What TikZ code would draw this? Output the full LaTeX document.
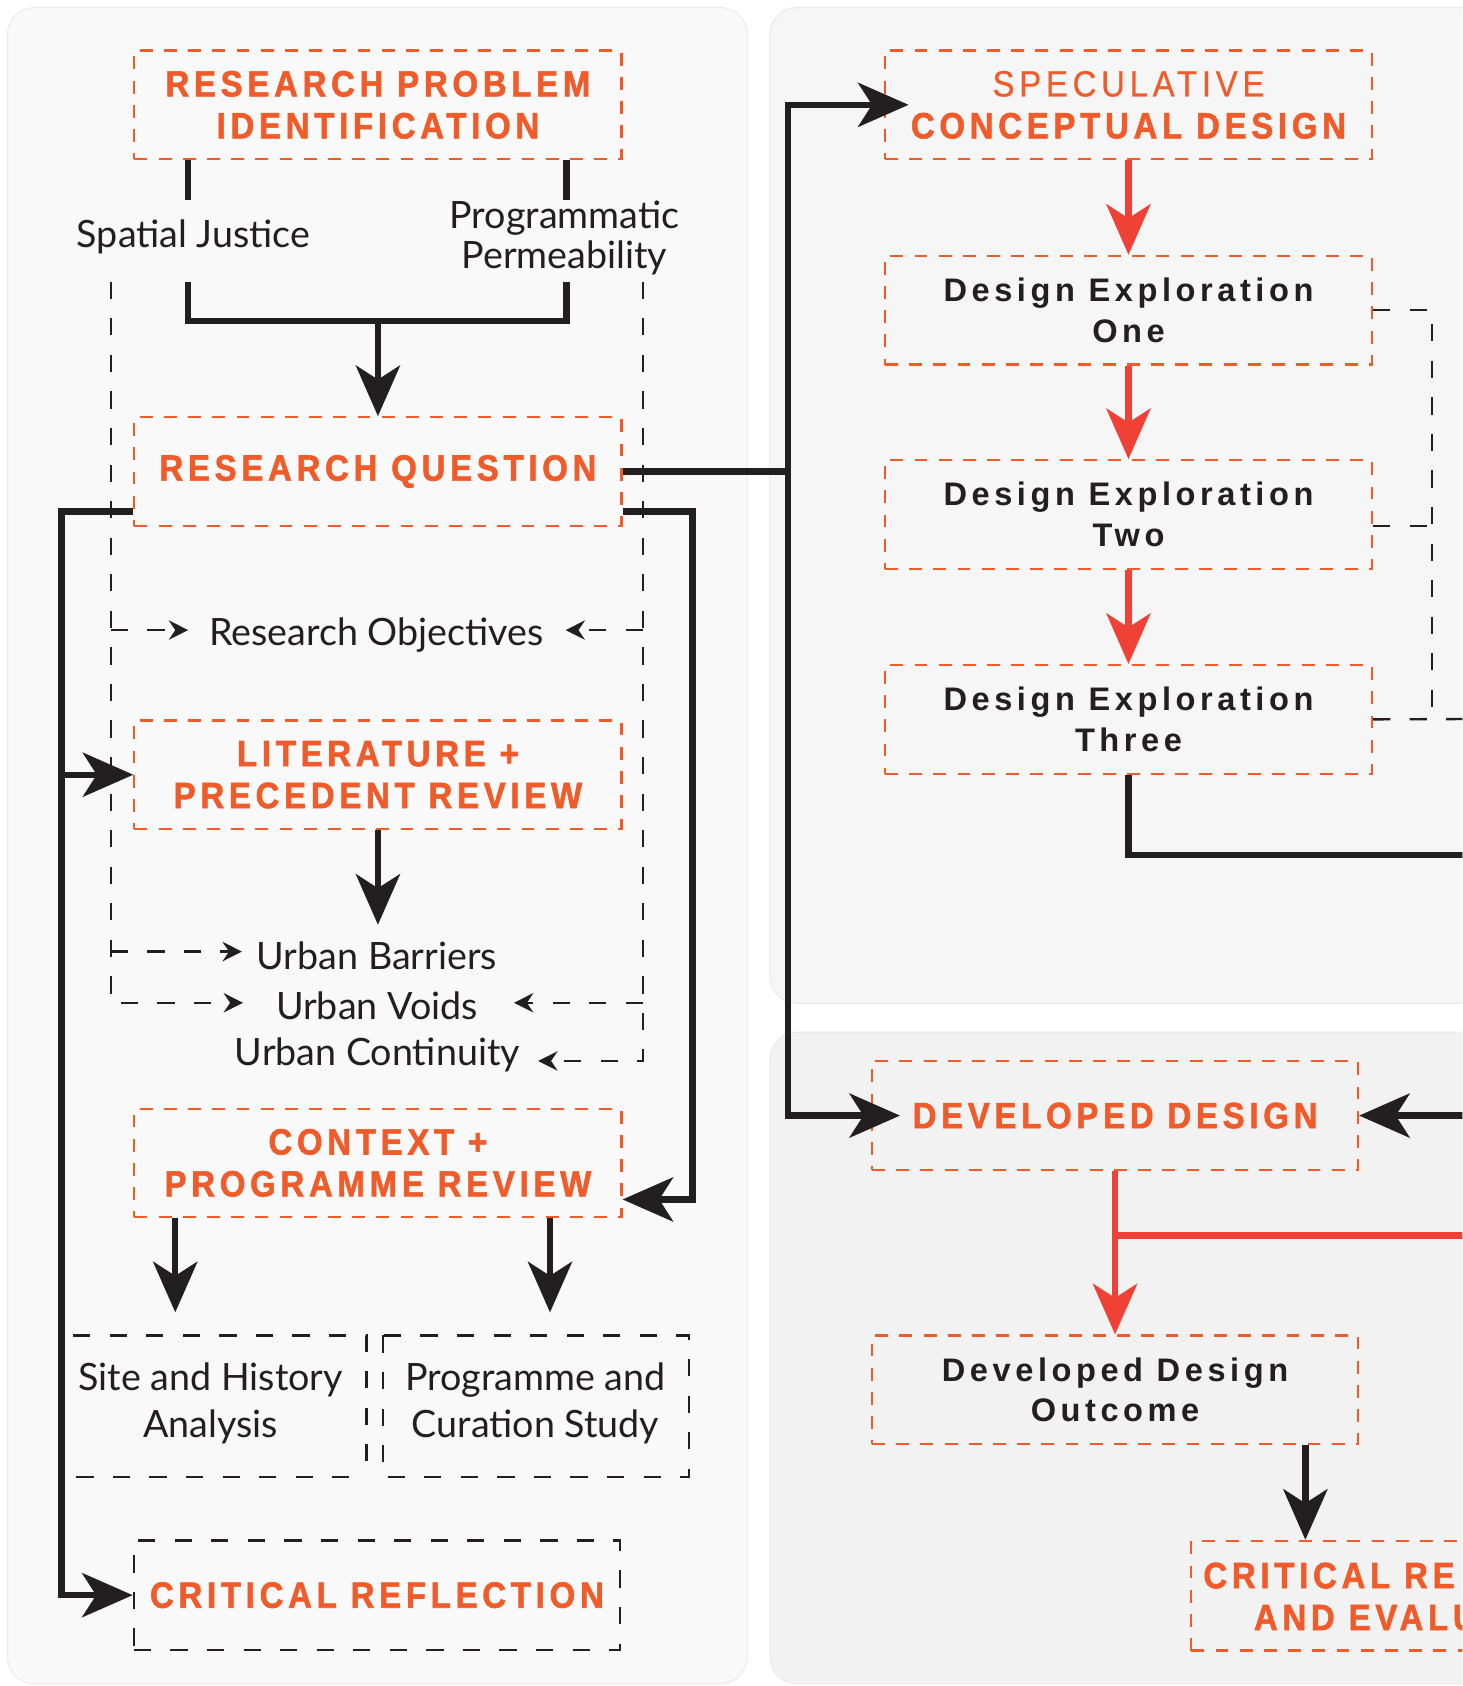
\documentclass[tikz,border=0pt]{standalone}
\usepackage{fontspec}
\setmainfont{Lato}
\newfontfamily\headfont[FakeStretch=0.9,LetterSpace=13,BoldFeatures={FakeBold=1.5}]{Liberation Sans}
\newfontfamily\speclfont[FakeStretch=0.9,LetterSpace=13,FakeBold=0.5]{Liberation Sans}
\newfontfamily\dexfont[LetterSpace=14]{Liberation Sans}
\usetikzlibrary{arrows.meta}
\definecolor{orng}{HTML}{F15A29}
\definecolor{redarr}{HTML}{EF4136}
\definecolor{ink}{HTML}{231F20}
\definecolor{pnlA}{HTML}{F9F9F9}
\definecolor{pnlB}{HTML}{F6F6F6}
\definecolor{pnlC}{HTML}{F2F2F2}
\definecolor{pnlEdge}{HTML}{EBEBEB}
\begin{document}
\begin{tikzpicture}[x=1pt,y=-1pt,
  obox/.style={draw=orng, line width=2pt, dash pattern=on 12pt off 10.5pt,
    minimum width=453pt, minimum height=101pt, inner sep=0pt, align=center},
  kbox/.style={draw=ink, line width=2.2pt, dash pattern=on 16pt off 18pt,
    minimum width=452pt, minimum height=102pt, inner sep=0pt, align=center},
  head/.style={text=orng, font=\headfont\bfseries\fontsize{34}{39}\selectfont},
  dex/.style={text=ink, font=\dexfont\bfseries\fontsize{30.3}{38}\selectfont},
  lbl/.style={text=ink, font=\fontsize{35}{37}\selectfont, align=center, inner sep=0pt},
  lbltwo/.style={text=ink, font=\fontsize{35}{44}\selectfont, align=center, inner sep=0pt},
  big/.style={draw=ink, line width=6pt},
  redl/.style={draw=redarr, line width=6pt},
  thin/.style={draw=ink, line width=2.2pt, dash pattern=on 16pt off 18pt},
  bigtip/.style={-{Stealth[length=47pt,width=41pt,inset=13pt]}},
  smalltip/.style={-{Stealth[length=18pt,width=18pt,inset=6pt]}},
]
\useasboundingbox (0,0) rectangle (1360,1568);
\clip (0,0) rectangle (1360,1568);
\fill[white] (0,0) rectangle (1360,1568);
% panels
\filldraw[fill=pnlA, draw=pnlEdge, line width=1pt, rounded corners=25pt] (7,7) rectangle (695,1566);
\filldraw[fill=pnlB, draw=pnlEdge, line width=1pt, rounded corners=25pt] (716,7) rectangle (1420,933);
\filldraw[fill=pnlC, draw=pnlEdge, line width=1pt, rounded corners=25pt] (716,960) rectangle (1420,1566);

% ---------- left column boxes
\node[obox, head] (rpi) at (351.5,97.5) {RESEARCH PROBLEM\\IDENTIFICATION};
\node[obox, head] (rq) at (351.5,438.5) {RESEARCH QUESTION};
\node[obox, head] (lpr) at (351.5,720.5) {LITERATURE +\\PRECEDENT REVIEW};
\node[obox, head] (cpr) at (351.5,1081.5) {CONTEXT +\\PROGRAMME REVIEW};
\node[kbox, head] (cr) at (350.5,1483.5) {CRITICAL REFLECTION};

% labels
\node[lbl] (sj) at (180,220) {Spatial Justice};
\node[lbl] (pp) at (525,221) {Programmatic\\Permeability};
\node[lbl] (ro) at (350,591) {Research Objectives};
\node[lbl] (ub) at (350.5,889) {Urban Barriers};
\node[lbl] (uv) at (350.5,935) {Urban Voids};
\node[lbl] (uc) at (351,981) {Urban Continuity};
\node[lbltwo] (sha) at (196,1305) {Site and History\\Analysis};
\node[lbltwo] (pcs) at (498,1305) {Programme and\\Curation Study};

% dashed boxes around the two studies
\draw[thin] ([shift={(-128,-63)}]sha.center) -- ([shift={(145,-63)}]sha.center)
  -- ([shift={(145,68.5)}]sha.center);
\draw[thin] ([shift={(-125,68.5)}]sha.center) -- ([shift={(145,68.5)}]sha.center);
\draw[thin] ([shift={(-142,-63)}]pcs.center) rectangle ([shift={(143,68.5)}]pcs.center);

% ---------- right column boxes
\node[obox, head] (scd) at (1049.5,97.5) {{\speclfont\mdseries SPECULATIVE}\\CONCEPTUAL DESIGN};
\node[obox, dex] (de1) at (1049.5,288.5) {Design Exploration\\One};
\node[obox, dex] (de2) at (1049.5,478.5) {Design Exploration\\Two};
\node[obox, dex] (de3) at (1049.5,669) {Design Exploration\\Three};
\node[obox, head, minimum width=452pt] (dd) at (1037,1037.5) {DEVELOPED DESIGN};
\node[obox, dex, minimum width=452pt] (ddo) at (1037,1292.5) {Developed Design\\Outcome};
\node[obox, minimum width=320pt, minimum height=102pt] (cre) at (1268,1484) {};
\node[head, anchor=base west, inner sep=0pt] (cre1) at (1119,1477) {CRITICAL RE};
\node[head, anchor=base west, inner sep=0pt] (cre2) at (1166,1516) {AND EVALU};

% ---------- coordinates
\coordinate (sjTop) at (175,186);
\coordinate (ppTop) at (527,186);
\coordinate (sjBot) at (175,262);
\coordinate (ppBot) at (527,262);
\coordinate (join) at (351.5,298.5);
\coordinate (lTrunk) at (57,720.5);
\coordinate (rTrunk) at (644,800);
\coordinate (tMid) at (733,438.5);
\coordinate (shaIn) at (163,1220.5);
\coordinate (pcsIn) at (511.5,1220.5);
\coordinate (ubTip) at (351.5,860);
\coordinate (dlTop) at (103,262);
\coordinate (drTop) at (598,262);
\coordinate (roL) at (175,586);
\coordinate (roR) at (526,586);
\coordinate (ubL) at (225,885);
\coordinate (uvL) at (226,932.6);
\coordinate (uvR) at (478,932.6);
\coordinate (ucR) at (500.5,986.7);
\coordinate (brTop) at (1332,288.5);
\coordinate (offA) at (1420,795.4);
\coordinate (offB) at (1420,1037.5);
\coordinate (offC) at (1420,668.5);
\coordinate (redJ) at (1037,1149);
\coordinate (redR) at (1420,1149);

% ---------- thick black connectors
\draw[big] (rpi.south -| sjTop) -- (sjTop);
\draw[big] (rpi.south -| ppTop) -- (ppTop);
\draw[big] (sjBot) -- (sjBot |- join) -- (ppBot |- join) -- (ppBot);
\draw[big, bigtip] (join) -- (rq.north);
\draw[big, bigtip] ([yshift=-37pt]rq.west) -| (lTrunk) |- (cr.west);
\draw[big, bigtip] (lTrunk) -- (lpr.west);
\draw[big, bigtip] ([yshift=-37pt]rq.east) -| (rTrunk) |- ([yshift=-34pt]cpr.east);
\draw[big, bigtip] (lpr.south) -- (ubTip);
\draw[big, bigtip] (cpr.south -| shaIn) -- (shaIn);
\draw[big, bigtip] (cpr.south -| pcsIn) -- (pcsIn);
\draw[big] (rq.east) -- (tMid);
\draw[big, bigtip] (tMid) |- ([xshift=23pt]scd.west);
\draw[big, bigtip] (tMid) |- ([xshift=27pt]dd.west);
\draw[big] (de3.south) |- (offA);
\draw[big, bigtip] (offB) -- (dd.east);
\draw[big, bigtip] ([xshift=177pt]ddo.south) -- ([xshift=177pt]ddo.south |- cre.north);

% ---------- red connectors
\draw[redl, bigtip] (scd.south) -- (de1.north);
\draw[redl, bigtip] (de1.south) -- (de2.north);
\draw[redl, bigtip] (de2.south) -- (de3.north);
\draw[redl, bigtip] (dd.south) -- (ddo.north);
\draw[redl] (redJ) -- (redR);

% ---------- thin dashed connectors
\draw[thin, smalltip] (dlTop) |- (uvL);
\draw[thin, smalltip] (dlTop |- roL) -- (roL);
\draw[thin, smalltip] (dlTop |- ubL) -- (ubL);
\draw[thin, smalltip] (drTop) |- (ucR);
\draw[thin, smalltip] (drTop |- roR) -- (roR);
\draw[thin, smalltip] (drTop |- uvR) -- (uvR);
\draw[thin] (de1.east) -- (brTop) -- (brTop |- offC);
\draw[thin] ([yshift=-10.5pt]de2.east) -- ([yshift=-10.5pt]de2.east -| brTop);
\draw[thin] (de3.east) -- (offC);
\end{tikzpicture}
\end{document}
